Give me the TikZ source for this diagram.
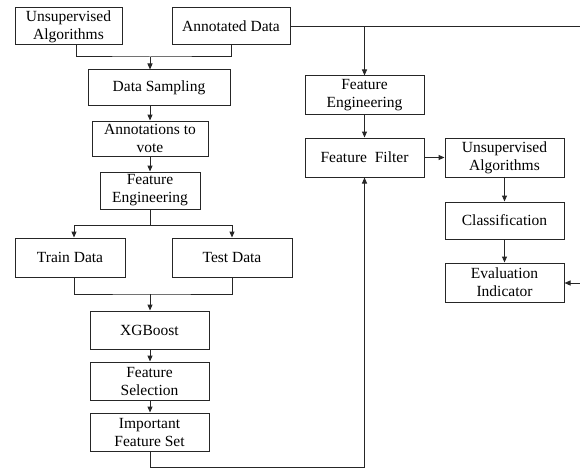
\documentclass[tikz,border=0pt]{standalone}
\usepackage{fontspec}
\setmainfont{Liberation Serif}
\usetikzlibrary{arrows.meta}
\begin{document}
\begin{tikzpicture}[x=1pt,y=-1pt,
  box/.style={draw=black!85,line width=1pt,inner sep=0pt,align=center,
    font=\fontsize{15.5}{18}\selectfont},
  line/.style={draw=black!85,line width=1pt},
  arr/.style={line,-{Triangle[length=6pt,width=5pt]}}]
\useasboundingbox (0,0) rectangle (580,468);
\node[box,minimum width=107,minimum height=37] (ua1) at (68.5,26.5) {Unsupervised\\Algorithms};
\node[box,minimum width=118,minimum height=37] (ad) at (231,26.5) {Annotated Data};
\node[box,minimum width=142,minimum height=36] (ds) at (159,88) {Data Sampling};
\node[box,minimum width=116,minimum height=35] (av) at (150,138.5) {Annotations to\\vote};
\node[box,minimum width=100,minimum height=37] (fe1) at (150,190.5) {Feature\\Engineering};
\node[box,minimum width=110,minimum height=39] (tr) at (70,257.5) {Train Data};
\node[box,minimum width=120,minimum height=39] (te) at (232,257.5) {Test Data};
\node[box,minimum width=119,minimum height=38] (xg) at (149.5,330) {XGBoost};
\node[box,minimum width=119,minimum height=38] (fs) at (149.5,381) {Feature\\Selection};
\node[box,minimum width=119,minimum height=38] (ifs) at (149.5,432) {Important\\Feature Set};
\node[box,minimum width=119,minimum height=38] (fe2) at (364.5,95) {Feature\\Engineering};
\node[box,minimum width=119,minimum height=39] (ff) at (364.5,157.5) {Feature\ \ Filter};
\node[box,minimum width=119,minimum height=39] (ua2) at (504.5,157.5) {Unsupervised\\Algorithms};
\node[box,minimum width=119,minimum height=37] (cl) at (504.5,220.5) {Classification};
\node[box,minimum width=119,minimum height=39] (ev) at (504.5,282.5) {Evaluation\\Indicator};
\coordinate (j1) at (150,57);
\coordinate (j2) at (150,225);
\coordinate (j3) at (150,294);
\coordinate (j4) at (364.5,467);
\coordinate (r1) at (580,27);
\coordinate (r2) at (580,283);
% left column
\draw[line] ([xshift=7.5pt]ua1.south) |- (j1) -| (ad.south);
\draw[arr] (j1) -- (ds.north -| j1);
\draw[arr] (ds.south -| av) -- (av.north);
\draw[arr] (av.south) -- (fe1.north);
\draw[line] (fe1.south) -- (j2);
\draw[arr] (j2) -| ([xshift=4pt]tr.north);
\draw[arr] (j2) -| (te.north);
\draw[line] ([xshift=4pt]tr.south) |- (j3) -| (te.south);
\draw[arr] (j3) -- (xg.north -| j3);
\draw[arr] (xg.south -| j3) -- (fs.north -| j3);
\draw[arr] (fs.south -| j3) -- (ifs.north -| j3);
\draw[arr] (ifs.south -| j3) |- (j4) -- (ff.south);
% right part
\draw[line] (ad.east |- r1) -- (r1);
\draw[arr] (fe2.north |- r1) -- (fe2.north);
\draw[arr] (fe2.south) -- (ff.north);
\draw[arr] (ff.east) -- (ua2.west);
\draw[arr] (ua2.south) -- (cl.north);
\draw[arr] (cl.south) -- (ev.north);
\draw[arr] (r2) -- (ev.east |- r2);
\end{tikzpicture}
\end{document}
